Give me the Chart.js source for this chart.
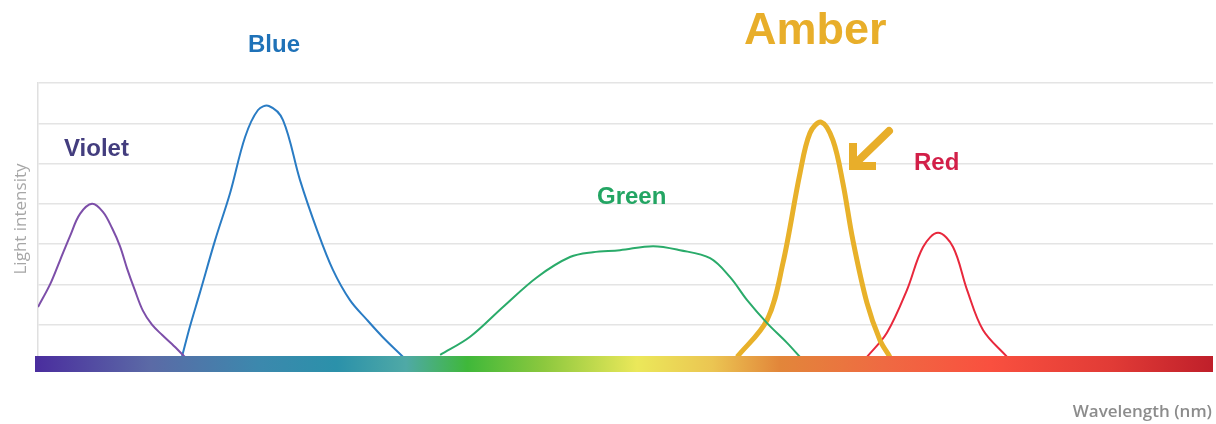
<!DOCTYPE html>
<html>
<head>
<meta charset="utf-8">
<script src="https://cdn.jsdelivr.net/npm/chart.js@4"></script>
<style>
  html, body { margin: 0; padding: 0; background: #fff; }
  canvas { display: block; }
</style>
</head>
<body>
<canvas id="spectrumChart" width="1216" height="424"></canvas>
<script>
// Длины волн (нм) и интенсивность для каждого светодиода
const violetNm = [380, 384.1, 387.5, 390.9, 394.3, 398.4, 402.1, 405.2, 407.9, 410.3, 413.0, 415.7, 418.8, 422.2, 425.6, 430.0];
const violetI  = [1.44, 2.0, 2.6, 3.2, 3.75, 4.0, 3.8, 3.4, 2.95, 2.4, 1.85, 1.35, 1.0, 0.75, 0.52, 0.2];

const blueNm = [429.0, 431.7, 435.1, 440.3, 445.4, 450.5, 454.9, 458.6, 463.4, 469.2, 475.0, 480.4, 486.2, 492.0, 497.4, 504.3];
const blueI  = [0.2, 0.95, 1.79, 3.1, 4.27, 5.66, 6.33, 6.43, 6.08, 4.59, 3.35, 2.36, 1.61, 1.12, 0.69, 0.2];

const greenNm = [516.9, 527.1, 538.3, 549.9, 561.1, 568.9, 578.1, 589.4, 598.6, 608.8, 615.6, 621.4, 628.2, 635.0, 639.4];
const greenI  = [0.25, 0.7, 1.44, 2.18, 2.68, 2.8, 2.85, 2.95, 2.85, 2.65, 2.18, 1.61, 1.04, 0.55, 0.2];

const amberNm = [618.0, 628.2, 633.6, 639.4, 642.8, 646.6, 650.6, 654.0, 657.4, 662.2, 666.6, 670.0];
const amberI  = [0.2, 1.12, 2.53, 4.76, 5.76, 6.03, 5.58, 4.52, 3.1, 1.54, 0.62, 0.2];

const redNm = [662.2, 669.0, 675.8, 681.3, 686.4, 691.5, 696.3, 701.7, 709.9];
const redI  = [0.2, 0.8, 1.86, 2.93, 3.28, 2.93, 1.86, 0.87, 0.2];

const xMin = 380, xMax = 780;
const yMax = 7;

function toPoints(xs, ys) {
    return xs.map((x, i) => ({ x: x, y: ys[i] }));
}

function series(label, xs, ys, color, width) {
    return {
        label: label,
        data: toPoints(xs, ys),
        borderColor: color,
        borderWidth: width,
        pointRadius: 0,
        fill: false,
        tension: 0.35
    };
}

// Спектральная полоса, подписи и стрелка
const decorations = {
    id: 'decorations',
    afterDatasetsDraw(chart) {
        const ctx = chart.ctx;
        ctx.save();

        // полоса спектра
        const bx0 = 35, bx1 = 1213, by = 356, bh = 16;
        const grad = ctx.createLinearGradient(bx0, 0, bx1, 0);
        [
            [0, '#4a2d9e'], [0.098, '#5b6aa6'], [0.189, '#3c88ad'], [0.256, '#2b91aa'],
            [0.315, '#4fa9a6'], [0.367, '#3fb83a'], [0.432, '#8cc83e'], [0.511, '#ebe85a'],
            [0.575, '#ebc552'], [0.632, '#e2863a'], [0.72, '#ef6a42'], [0.811, '#f9503f'],
            [0.914, '#e13b36'], [1, '#bf1f2a']
        ].forEach(s => grad.addColorStop(s[0], s[1]));
        ctx.fillStyle = grad;
        ctx.fillRect(bx0, by, bx1 - bx0, bh);

        // подписи
        ctx.textBaseline = 'alphabetic';
        ctx.textAlign = 'left';
        const label = (text, x, y, size, color) => {
            ctx.font = 'bold ' + size + 'px "Liberation Sans", Arial, sans-serif';
            ctx.fillStyle = color;
            ctx.fillText(text, x, y);
        };
        label('Violet', 64, 156, 24, '#433d7e');
        label('Blue', 248, 52, 24, '#1f72b8');
        label('Green', 597, 204, 24, '#23a563');
        label('Red', 914, 170, 24, '#d21f48');
        label('Amber', 744, 44, 45, '#e8ae2a');

        // стрелка к янтарному пику
        ctx.strokeStyle = '#e8ae2a';
        ctx.lineWidth = 8;
        ctx.lineCap = 'round';
        ctx.beginPath();
        ctx.moveTo(889, 131);
        ctx.lineTo(858, 161);
        ctx.stroke();
        ctx.lineCap = 'butt';
        ctx.lineJoin = 'miter';
        ctx.beginPath();
        ctx.moveTo(853, 143);
        ctx.lineTo(853, 166);
        ctx.lineTo(876, 166);
        ctx.stroke();

        // названия осей
        ctx.font = '17px "Open Sans", sans-serif';
        ctx.fillStyle = '#a6a6a6';
        ctx.save();
        ctx.translate(26, 219);
        ctx.rotate(-Math.PI / 2);
        ctx.textAlign = 'center';
        ctx.fillText('Light intensity', 0, 0);
        ctx.restore();

        ctx.font = '600 17px "Open Sans", sans-serif';
        ctx.fillStyle = '#8c8c8c';
        ctx.textAlign = 'right';
        ctx.fillText('Wavelength (nm)', 1212, 417);

        ctx.restore();
    }
};

const spectrumChart = new Chart(
    document.getElementById('spectrumChart'),
    {
        type: 'line',
        data: {
            datasets: [
                series('Violet', violetNm, violetI, '#7d4fa9', 2),
                series('Blue', blueNm, blueI, '#2a7cc4', 2),
                series('Green', greenNm, greenI, '#2aab6a', 2),
                series('Amber', amberNm, amberI, '#e8b12a', 5),
                series('Red', redNm, redI, '#e8283c', 2)
            ]
        },
        options: {
            responsive: false,
            animation: false,
            devicePixelRatio: 1,
            layout: {
                padding: { left: 38, right: 3, top: 83, bottom: 59 }
            },
            plugins: {
                legend: { display: false },
                tooltip: { enabled: false }
            },
            scales: {
                x: {
                    type: 'linear',
                    min: xMin,
                    max: xMax,
                    display: false
                },
                y: {
                    min: 0,
                    max: yMax,
                    ticks: { display: false, stepSize: 1 },
                    grid: {
                        color: '#e4e4e4',
                        lineWidth: 1.5,
                        drawTicks: false
                    },
                    border: { display: true, color: '#e0e0e0', width: 1.5 }
                }
            }
        },
        plugins: [decorations]
    }
);
</script>
</body>
</html>
